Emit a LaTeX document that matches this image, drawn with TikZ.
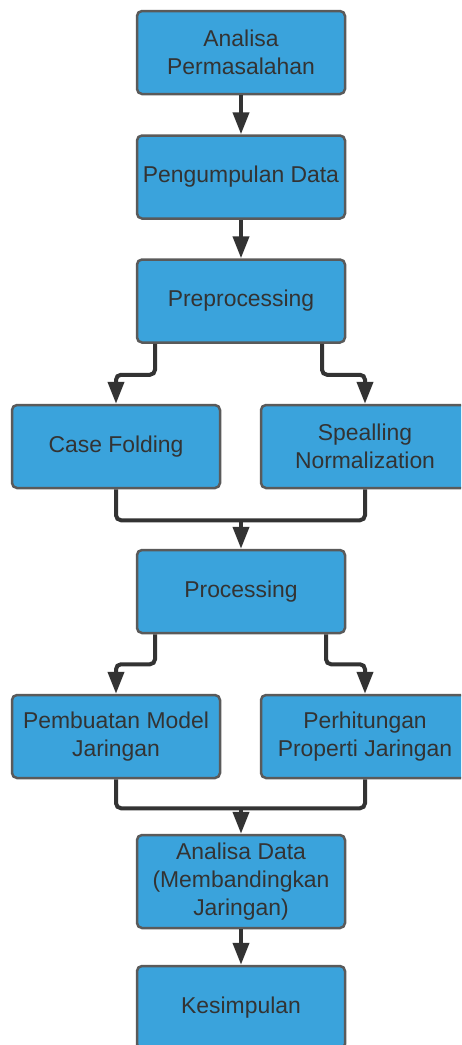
\documentclass[tikz,border=0pt]{standalone}
\usepackage{fontspec}
\setmainfont{Liberation Sans}
\usetikzlibrary{arrows.meta,calc}
\definecolor{boxfill}{RGB}{58,163,220}
\definecolor{boxline}{RGB}{90,90,90}
\definecolor{ink}{RGB}{51,51,51}
\begin{document}
\begin{tikzpicture}[x=1pt,y=-1pt,
  box/.style={draw=boxline,line width=2.5pt,fill=boxfill,rounded corners=5pt,
    minimum width=208pt,minimum height=83pt,align=center,text=ink,
    font=\fontsize{22.9pt}{28pt}\selectfont,inner sep=2pt},
  conn/.style={draw=ink,line width=4pt,rounded corners=5pt},
  arr/.style={conn,-{Triangle[width=16pt,length=22pt]}}]
\clip (0,0) rectangle (461,1045);
\node[box] (b1) at (241,52.5) {Analisa\\Permasalahan};
\node[box] (b2) at (241,177) {Pengumpulan Data};
\node[box] (b3) at (241,301) {Preprocessing};
\node[box] (cf) at (116,446.5) {Case Folding};
\node[box] (sn) at (365,446.5) {Spealling\\Normalization};
\node[box] (pr) at (241,591.5) {Processing};
\node[box] (pm) at (116,736.5) {Pembuatan Model\\Jaringan};
\node[box] (pj) at (365,736.5) {Perhitungan\\Properti Jaringan};
\node[box,minimum height=93pt] (ad) at (241,881.5) {Analisa Data\\(Membandingkan\\Jaringan)};
\node[box] (ks) at (241,1007.5) {Kesimpulan};
\draw[arr] (b1) -- (b2);
\draw[arr] (b2) -- (b3);
\draw[arr] ([xshift=-86pt]b3.south) -- ++(0,31) -| (cf.north);
\draw[arr] ([xshift=81pt]b3.south) -- ++(0,31) -| (sn.north);
\draw[conn] (cf.south) -- ++(0,31) -| (sn.south);
\coordinate (j1) at ([yshift=-31pt]pr.north|-cf.south);
\draw[arr] (j1) -- (pr.north);
\draw[arr] ([xshift=-86pt]pr.south) -- ++(0,30) -| (pm.north);
\draw[arr] ([xshift=85pt]pr.south) -- ++(0,30) -| (pj.north);
\draw[conn] (pm.south) -- ++(0,29) -| (pj.south);
\coordinate (j2) at ([yshift=-29pt]ad.north|-pm.south);
\draw[arr] (j2) -- (ad.north);
\draw[arr] (ad) -- (ks);
\end{tikzpicture}
\end{document}
